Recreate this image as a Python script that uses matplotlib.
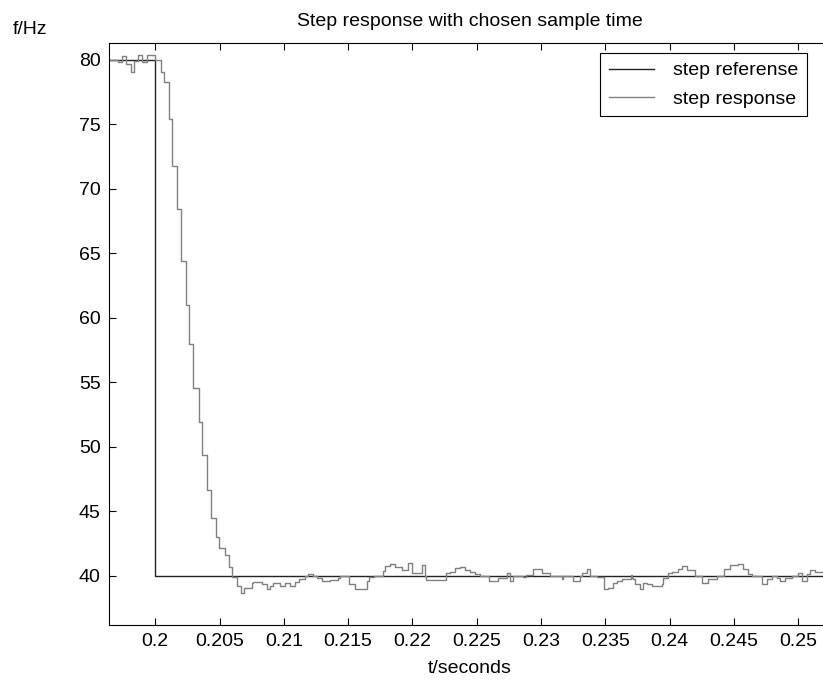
import matplotlib
matplotlib.use("Agg")
import matplotlib.pyplot as plt
import numpy as np

plt.rcParams['font.family'] = ['Liberation Sans', 'DejaVu Sans']

# reference step
ref_t = [0.1964, 0.2000, 0.2525]
ref_v = [80.0, 40.0, 40.0]

# measured step response (sample-and-hold values)
resp_t = [0.19640, 0.19712, 0.19739, 0.19772, 0.19809, 0.19834, 0.19868, 0.19894, 0.19933, 0.19998,
          0.20042, 0.20070, 0.20107, 0.20132, 0.20171, 0.20200, 0.20236, 0.20264, 0.20295, 0.20340,
          0.20365, 0.20404, 0.20433, 0.20472, 0.20498, 0.20542, 0.20575, 0.20599, 0.20638, 0.20664,
          0.20690, 0.20750, 0.20762, 0.20827, 0.20866, 0.20892, 0.20918, 0.20970, 0.21009, 0.21047,
          0.21086, 0.21117, 0.21165, 0.21190, 0.21224, 0.21255, 0.21294, 0.21359, 0.21423, 0.21436,
          0.21509, 0.21553, 0.21644, 0.21664, 0.21703, 0.21768, 0.21786, 0.21825, 0.21864, 0.21916,
          0.21967, 0.21994, 0.22072, 0.22098, 0.22105, 0.22261, 0.22292, 0.22331, 0.22369, 0.22408,
          0.22447, 0.22486, 0.22525, 0.22597, 0.22667, 0.22733, 0.22758, 0.22779, 0.22862, 0.22883,
          0.22935, 0.23005, 0.23069, 0.23160, 0.23173, 0.23250, 0.23303, 0.23316, 0.23355, 0.23380,
          0.23432, 0.23489, 0.23523, 0.23561, 0.23588, 0.23627, 0.23697, 0.23705, 0.23717, 0.23730,
          0.23769, 0.23795, 0.23821, 0.23860, 0.23938, 0.23950, 0.23989, 0.24016, 0.24067, 0.24093,
          0.24132, 0.24197, 0.24249, 0.24300, 0.24366, 0.24422, 0.24469, 0.24533, 0.24572, 0.24611,
          0.24638, 0.24715, 0.24754, 0.24793, 0.24832, 0.24858, 0.24897, 0.24949, 0.25000, 0.25026,
          0.25065, 0.25091, 0.25130, 0.25250]
resp_v = [80.00, 79.80, 80.30, 79.70, 79.05, 79.90, 80.40, 79.85, 80.40, 80.00,
          79.05, 78.30, 75.40, 71.80, 68.40, 64.40, 61.00, 58.00, 54.60, 51.90,
          49.40, 46.70, 44.50, 43.00, 42.15, 41.60, 40.70, 39.90, 39.20, 38.70,
          39.10, 39.48, 39.56, 39.35, 38.97, 39.22, 39.48, 39.22, 39.43, 39.22,
          39.53, 39.79, 40.00, 40.18, 40.00, 39.87, 39.61, 39.70, 39.87, 40.00,
          39.35, 39.00, 39.61, 39.95, 40.00, 40.40, 40.78, 40.90, 40.72, 40.46,
          40.98, 40.20, 40.83, 40.00, 39.65, 40.20, 40.30, 40.65, 40.70, 40.46,
          40.30, 40.13, 40.00, 39.61, 39.87, 40.20, 39.60, 40.00, 39.95, 40.05,
          40.57, 40.26, 40.00, 39.74, 40.00, 39.61, 40.00, 40.20, 40.52, 40.00,
          39.95, 38.97, 39.10, 39.48, 39.61, 39.80, 40.10, 39.87, 39.74, 39.35,
          38.97, 39.48, 39.35, 39.20, 39.35, 39.87, 40.26, 40.31, 40.57, 40.78,
          40.50, 40.00, 39.48, 39.80, 40.00, 40.57, 40.83, 40.90, 40.57, 40.13,
          40.00, 39.35, 39.74, 40.00, 39.87, 39.61, 39.87, 40.00, 40.26, 39.61,
          40.13, 40.50, 40.30, 40.30]

x_ticks = [0.2, 0.205, 0.21, 0.215, 0.22, 0.225, 0.23, 0.235, 0.24, 0.245, 0.25]
x_tick_labels = ['0.2', '0.205', '0.21', '0.215', '0.22', '0.225', '0.23', '0.235', '0.24', '0.245', '0.25']
y_ticks = [40, 45, 50, 55, 60, 65, 70, 75, 80]

FS = 14
W, H = 823, 687
fig = plt.figure(figsize=(W / 100, H / 100), dpi=100)
ax = fig.add_axes([109 / W, 1 - 625 / H, (830 - 109) / W, (625 - 43) / H])

ax.step(ref_t, ref_v, where='post', color='#222222', lw=1.0, label='step referense')
ax.step(resp_t, resp_v, where='post', color='#808080', lw=1.0, label='step response')

ax.set_xlim(0.1964, 0.25247)
ax.set_ylim(36.2, 81.3)
ax.set_xticks(x_ticks)
ax.set_xticklabels(x_tick_labels)
ax.set_yticks(y_ticks)
ax.tick_params(direction='in', length=5, width=0.8, top=True, right=False,
               labelsize=FS, pad=6, colors='black')
for s in ax.spines.values():
    s.set_linewidth(0.8)
    s.set_color('black')

ax.set_title('Step response with chosen sample time', fontsize=FS, pad=12)
ax.set_xlabel('t/seconds', fontsize=FS, labelpad=7)
fig.text(30 / W, 1 - 29 / H, 'f/Hz', fontsize=FS, ha='center', va='center')

leg = ax.legend(loc='upper right', bbox_to_anchor=(807 / W, 1 - 53 / H),
                bbox_transform=fig.transFigure, fancybox=False, framealpha=1,
                edgecolor='black', fontsize=FS, handlelength=2.3, borderaxespad=0,
                borderpad=0.45, labelspacing=0.55, handletextpad=1.0)
leg.get_frame().set_linewidth(0.8)

fig.savefig('out.png', dpi=100)
